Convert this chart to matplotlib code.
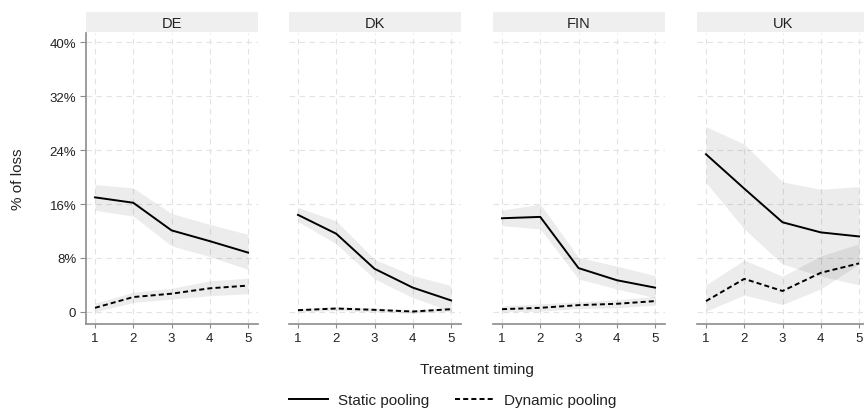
import matplotlib
matplotlib.use("Agg")
import matplotlib.pyplot as plt
from matplotlib.lines import Line2D
from matplotlib.patches import Rectangle

plt.rcParams['font.family'] = ['Liberation Sans', 'DejaVu Sans']

timing = [1, 2, 3, 4, 5]
countries = ['DE', 'DK', 'FIN', 'UK']
y_ticks = [0, 8, 16, 24, 32, 40]
y_tick_labels = ['0', '8%', '16%', '24%', '32%', '40%']

# Static pooling: estimate, lower, upper
static_de = [17.0, 16.2, 12.1, 10.5, 8.8]
static_de_lo = [15.1, 14.2, 9.8, 8.2, 6.3]
static_de_hi = [18.9, 18.4, 14.6, 13.0, 11.5]
static_dk = [14.4, 11.6, 6.4, 3.6, 1.7]
static_dk_lo = [13.4, 10.1, 4.9, 2.1, 0.1]
static_dk_hi = [15.5, 13.5, 7.8, 5.4, 3.9]
static_fin = [13.9, 14.1, 6.5, 4.7, 3.6]
static_fin_lo = [12.8, 12.3, 4.9, 3.4, 2.1]
static_fin_hi = [15.1, 16.0, 8.1, 6.8, 5.4]
static_uk = [23.4, 18.3, 13.3, 11.8, 11.2]
static_uk_lo = [19.2, 12.3, 7.1, 5.3, 4.0]
static_uk_hi = [27.5, 24.9, 19.3, 18.2, 18.6]

# Dynamic pooling: estimate, lower, upper
dynamic_de = [0.6, 2.2, 2.7, 3.5, 3.9]
dynamic_de_lo = [0.0, 1.4, 1.9, 2.4, 2.7]
dynamic_de_hi = [1.3, 2.9, 3.5, 4.6, 5.0]
dynamic_dk = [0.25, 0.5, 0.3, 0.05, 0.4]
dynamic_dk_lo = [0.0, 0.2, 0.0, -0.2, 0.1]
dynamic_dk_hi = [0.5, 0.8, 0.6, 0.3, 0.7]
dynamic_fin = [0.4, 0.6, 1.0, 1.2, 1.6]
dynamic_fin_lo = [0.0, 0.1, 0.5, 0.6, 1.0]
dynamic_fin_hi = [0.9, 1.2, 1.5, 1.8, 2.3]
dynamic_uk = [1.6, 4.9, 3.1, 5.8, 7.2]
dynamic_uk_lo = [0.1, 2.5, 1.1, 3.4, 7.1]
dynamic_uk_hi = [4.0, 7.7, 5.3, 8.3, 10.1]

static_series = [(static_de, static_de_lo, static_de_hi),
                 (static_dk, static_dk_lo, static_dk_hi),
                 (static_fin, static_fin_lo, static_fin_hi),
                 (static_uk, static_uk_lo, static_uk_hi)]
dynamic_series = [(dynamic_de, dynamic_de_lo, dynamic_de_hi),
                  (dynamic_dk, dynamic_dk_lo, dynamic_dk_hi),
                  (dynamic_fin, dynamic_fin_lo, dynamic_fin_hi),
                  (dynamic_uk, dynamic_uk_lo, dynamic_uk_hi)]

W, H = 864, 410
fig = plt.figure(figsize=(W / 100, H / 100), dpi=100)

lefts = [86, 289, 493, 697]
pw = 172
top_px, bot_px = 34, 325
strip_top = 13
dash = (0, (2.6, 1.6))
grid_col = '#e3e3e3'
spine_col = '#8c8c8c'
txt_col = '#222222'

for i, (c, left) in enumerate(zip(countries, lefts)):
    ax = fig.add_axes([left / W, 1 - bot_px / H, pw / W, (bot_px - top_px) / H])
    ax.set_xlim(0.765, 5.26)
    ax.set_ylim(-1.8, 41.4)
    s, slo, shi = static_series[i]
    d, dlo, dhi = dynamic_series[i]
    ax.fill_between(timing, slo, shi, color='black', alpha=0.075, linewidth=0, zorder=2)
    ax.fill_between(timing, dlo, dhi, color='black', alpha=0.075, linewidth=0, zorder=2)
    ax.plot(timing, s, color='black', lw=1.4, zorder=3)
    ax.plot(timing, d, color='black', lw=1.4, linestyle=dash, zorder=3)
    ax.set_xticks(timing)
    ax.set_yticks(y_ticks)
    ax.grid(True, color=grid_col, linestyle=(0, (5, 4)), linewidth=0.8, zorder=0)
    for sp in ['top', 'right']:
        ax.spines[sp].set_visible(False)
    ax.spines['bottom'].set_color(spine_col)
    ax.spines['bottom'].set_linewidth(1.2)
    ax.tick_params(axis='x', colors=spine_col, length=3, width=0.8, labelsize=9.5,
                   labelcolor=txt_col, pad=3)
    if i == 0:
        ax.spines['left'].set_color(spine_col)
        ax.spines['left'].set_linewidth(1.2)
        ax.set_yticklabels(y_tick_labels)
        ax.tick_params(axis='y', colors=spine_col, length=4, width=0.8, labelsize=9.5,
                       labelcolor=txt_col, pad=3)
        ax.set_ylabel('% of loss', fontsize=11, color=txt_col, labelpad=18)
    else:
        ax.spines['left'].set_visible(False)
        ax.tick_params(axis='y', length=0, labelleft=False)
    # strip
    fig.patches.append(Rectangle((left / W, 1 - 33 / H), pw / W, (33 - strip_top) / H,
                                 transform=fig.transFigure, facecolor='#efefef',
                                 edgecolor='none', zorder=0))
    fig.text((left + pw / 2) / W, 1 - 24 / H, c, ha='center', va='center',
             fontsize=10.5, color=txt_col)

fig.text(477 / W, 1 - 370 / H, 'Treatment timing', ha='center', va='center',
         fontsize=11, color=txt_col)

handles = [Line2D([], [], color='black', lw=1.4),
           Line2D([], [], color='black', lw=1.4, linestyle=dash)]
fig.legend(handles, ['Static pooling', 'Dynamic pooling'], loc='center',
           bbox_to_anchor=(453 / W, 1 - 401 / H), ncol=2, frameon=False,
           fontsize=11, handlelength=2.5, handletextpad=0.7, columnspacing=1.7,
           labelcolor=txt_col)

fig.savefig('out.png', dpi=100)
